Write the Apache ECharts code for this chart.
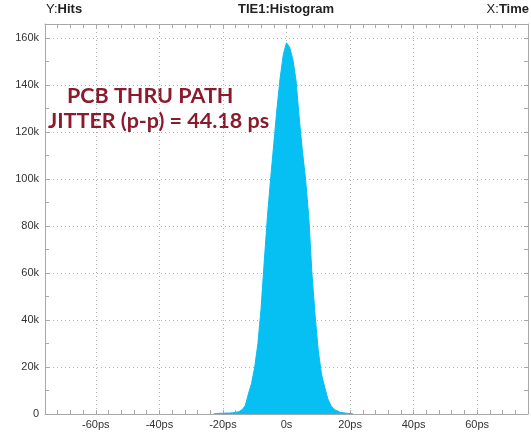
<!DOCTYPE html>
<html>
<head>
<meta charset="utf-8">
<script src="https://cdn.jsdelivr.net/npm/echarts@6/dist/echarts.min.js"></script>
<style>
  html, body { margin: 0; padding: 0; background: #fff; }
  #chart { width: 531px; height: 438px; }
</style>
</head>
<body>
<div id="chart"></div>
<script>
// time bins (ps) and hit counts
const timePs = [-23, -22, -21, -20, -19, -18, -17, -16, -15, -14, -13, -12, -11, -10, -9, -8, -7, -6, -5, -4, -3, -2, -1,
  0, 1, 2, 3, 4, 5, 6, 7, 8, 9, 10, 11, 12, 13, 14, 15, 16, 17, 18, 19, 20, 21]
const hits = [0, 200, 300, 300, 400, 400, 500, 700, 1000, 1800, 3500, 8500, 13000, 20000, 30000, 45000, 65000, 84000, 100000, 115000, 130000, 143000, 153000,
  158000, 156000, 151000, 142000, 126000, 112000, 100000, 84000, 60000, 42000, 27000, 17000, 11500, 6500, 3500, 2000, 1200, 700, 500, 300, 200, 0]
const xTickLabels = ['-60ps', '-40ps', '-20ps', '0s', '20ps', '40ps', '60ps']
const yTickLabels = ['0', '20k', '40k', '60k', '80k', '100k', '120k', '140k', '160k']

const xMin = -76, xMax = 76
const yMax = 166000
const frameColor = '#a8a8a8'
const gridStyle = { color: '#b4b4b4', type: [1, 3], width: 1 }

const chart = echarts.init(document.getElementById('chart'))

const tickAxisX = (pos) => ({
  type: 'value', position: pos, min: xMin, max: xMax, interval: 4,
  axisLine: { show: pos === 'top', onZero: false, lineStyle: { color: frameColor } },
  axisTick: { show: true, inside: true, length: 4, lineStyle: { color: frameColor } },
  axisLabel: { show: false }, splitLine: { show: false },
})
const tickAxisY = (pos) => ({
  type: 'value', position: pos, min: 0, max: yMax, interval: 10000,
  axisLine: { show: pos === 'right', onZero: false, lineStyle: { color: frameColor } },
  axisTick: { show: true, inside: true, length: 4, lineStyle: { color: frameColor } },
  axisLabel: { show: false }, splitLine: { show: false },
})

const titleRich = {
  r: { fontSize: 13, fontFamily: 'Liberation Sans', fill: '#222' },
  b: { fontSize: 13, fontWeight: 'bold', fontFamily: 'Liberation Sans', fill: '#222' },
}
const noteStyle = { fontSize: 21.5, fontWeight: 'bold', fontFamily: 'Lato', fill: '#8b1a2d' }

chart.setOption({
  animation: false,
  textStyle: { fontFamily: 'Liberation Sans, Arial, sans-serif' },
  grid: { left: 45, right: 3, top: 24, bottom: 24 },
  xAxis: [
    {
      type: 'value', position: 'bottom', min: xMin, max: xMax, splitNumber: 8,
      axisLine: { show: true, onZero: false, lineStyle: { color: frameColor } },
      axisTick: { show: false },
      axisLabel: {
        color: '#333', fontSize: 11, margin: 5,
        showMinLabel: false, showMaxLabel: false,
        formatter: (v) => (v % 20 === 0 ? xTickLabels[(v + 60) / 20] || '' : ''),
      },
      splitLine: { show: true, lineStyle: gridStyle },
    },
    tickAxisX('bottom'),
    tickAxisX('top'),
  ],
  yAxis: [
    {
      type: 'value', position: 'left', min: 0, max: yMax, interval: 20000,
      axisLine: { show: true, onZero: false, lineStyle: { color: frameColor } },
      axisTick: { show: false },
      axisLabel: {
        color: '#333', fontSize: 11, margin: 6,
        formatter: (v) => (v % 20000 === 0 ? yTickLabels[v / 20000] || '' : ''),
      },
      splitLine: { show: true, lineStyle: gridStyle },
    },
    tickAxisY('left'),
    tickAxisY('right'),
  ],
  graphic: [
    { type: 'text', left: 46, top: 3, style: { text: '{r|Y:}{b|Hits}', rich: titleRich } },
    { type: 'text', left: 238, top: 3, style: { text: '{b|TIE1:Histogram}', rich: titleRich } },
    { type: 'text', right: 2, top: 3, style: { text: '{r|X:}{b|Time}', rich: titleRich } },
    { type: 'text', left: 67, top: 85, style: Object.assign({ text: 'PCB THRU PATH' }, noteStyle) },
    { type: 'text', left: 48, top: 110, style: Object.assign({ text: 'JITTER (p-p) = 44.18 ps' }, noteStyle) },
  ],
  series: [
    {
      type: 'line',
      xAxisIndex: 0,
      yAxisIndex: 0,
      data: timePs.map((t, i) => [t, hits[i]]),
      showSymbol: false,
      lineStyle: { color: '#06bff3', width: 1 },
      areaStyle: { color: '#06bff3', opacity: 1 },
      z: 1,
    },
  ],
})
</script>
</body>
</html>
